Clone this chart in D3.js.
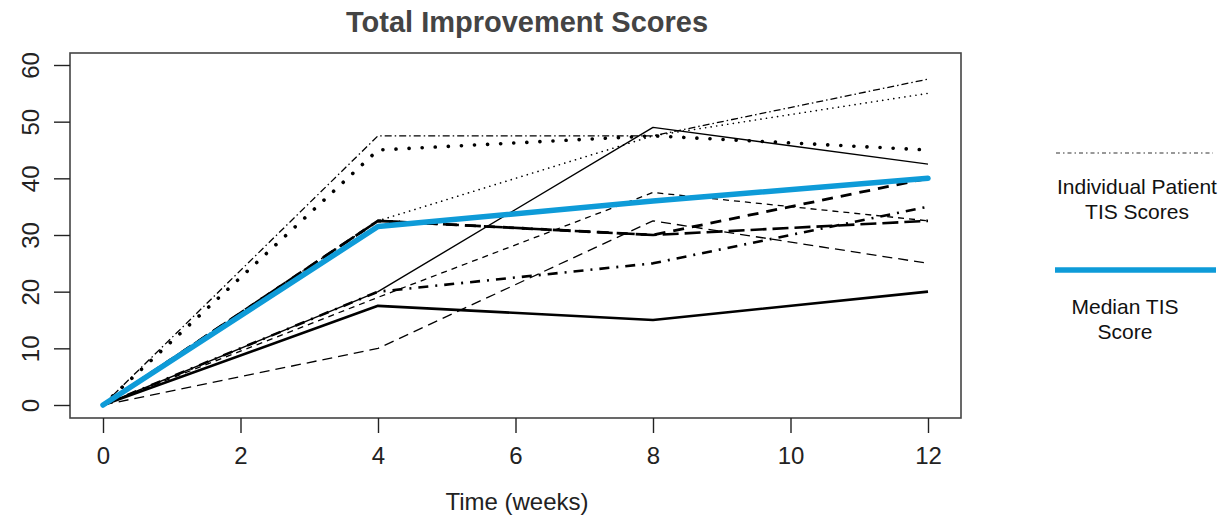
<!DOCTYPE html>
<html>
<head>
<meta charset="utf-8">
<script src="https://cdn.jsdelivr.net/npm/d3@7"></script>
<style>
  html, body { margin: 0; padding: 0; background: #fff; }
  svg { display: block; font-family: "Liberation Sans", Arial, sans-serif; }
</style>
</head>
<body>
<svg id="chart" width="1225" height="517"></svg>
<script>
// ---- data ----
const weeks = [0, 4, 8, 12];
const xTicks = [0, 2, 4, 6, 8, 10, 12];
const yTicks = [0, 10, 20, 30, 40, 50, 60];

const patient1 = [0, 47.5, 47.5, 57.5];
const patient2 = [0, 45, 47.5, 45];
const patient3 = [0, 32.5, 47.5, 55];
const patient4 = [0, 20, 49, 42.5];
const patient5 = [0, 32.5, 30, 32.5];
const patient6 = [0, 19, 37.5, 32.5];
const patient7 = [0, 10, 32.5, 25];
const patient8 = [0, 20, 25, 35];
const patient9 = [0, 32.5, 30, 40];
const patient10 = [0, 17.5, 15, 20];
const medianScores = [0, 31.5, 36, 40];

const titleText = "Total Improvement Scores";
const xLabel = "Time (weeks)";
const legendLabels = [["Individual Patient", "TIS Scores"], ["Median TIS", "Score"]];

// ---- styles (kept separate from data) ----
const patientStyles = [
  { data: patient1, w: 1.3, dash: "7 3 1.5 3", cap: "butt" },
  { data: patient2, w: 3.6, dash: "0.1 13", cap: "round" },
  { data: patient3, w: 1.6, dash: "0.1 5.5", cap: "round" },
  { data: patient4, w: 1.4, dash: null, cap: "butt" },
  { data: patient5, w: 2.6, dash: "16 6", cap: "butt" },
  { data: patient6, w: 1.3, dash: "6 5", cap: "butt" },
  { data: patient7, w: 1.3, dash: "10 6", cap: "butt" },
  { data: patient8, w: 2.6, dash: "10 7 2 7", cap: "butt" },
  { data: patient9, w: 2.8, dash: "11 8", cap: "butt" },
  { data: patient10, w: 2.6, dash: null, cap: "butt" }
];

const svg = d3.select("#chart");
const box = { left: 70, right: 961, top: 53, bottom: 418 };

const x = d3.scaleLinear().domain([0, 12]).range([103, 928]);
const y = d3.scaleLinear().domain([0, 60]).range([405, 65]);

const line = d3.line().x((d, i) => x(weeks[i])).y(d => y(d));

// title
svg.append("text")
  .attr("x", 527).attr("y", 32)
  .attr("text-anchor", "middle")
  .attr("font-size", 29).attr("font-weight", "bold")
  .attr("fill", "#444")
  .text(titleText);

// patient lines
const g = svg.append("g");
patientStyles.forEach(s => {
  g.append("path")
    .attr("d", line(s.data))
    .attr("fill", "none")
    .attr("stroke", "#000")
    .attr("stroke-width", s.w)
    .attr("stroke-linecap", s.cap)
    .attr("stroke-linejoin", "round")
    .attr("stroke-dasharray", s.dash);
});

// median line
g.append("path")
  .attr("d", line(medianScores))
  .attr("fill", "none")
  .attr("stroke", "#0e9bd8")
  .attr("stroke-width", 5.5)
  .attr("stroke-linecap", "round")
  .attr("stroke-linejoin", "round");

// plot box
svg.append("rect")
  .attr("x", box.left).attr("y", box.top)
  .attr("width", box.right - box.left).attr("height", box.bottom - box.top)
  .attr("fill", "none").attr("stroke", "#444").attr("stroke-width", 1.6);

// x axis
const xAxis = d3.axisBottom(x).tickValues(xTicks).tickSize(15).tickPadding(14).tickFormat(d3.format("d"));
const xg = svg.append("g").attr("transform", `translate(0,${box.bottom})`).call(xAxis);
xg.select(".domain").remove();
xg.selectAll(".tick line").attr("stroke", "#222").attr("stroke-width", 1.4);
xg.selectAll(".tick text").attr("font-size", 24).attr("fill", "#222")
  .attr("font-family", "Liberation Sans, Arial, sans-serif");

// y axis
const yAxis = d3.axisLeft(y).tickValues(yTicks).tickSize(16).tickPadding(0).tickFormat(d3.format("d"));
const yg = svg.append("g").attr("transform", `translate(${box.left},0)`).call(yAxis);
yg.select(".domain").remove();
yg.selectAll(".tick line").attr("stroke", "#222").attr("stroke-width", 1.4);
yg.selectAll(".tick text")
  .attr("font-size", 24).attr("fill", "#222")
  .attr("font-family", "Liberation Sans, Arial, sans-serif")
  .attr("x", null).attr("dy", null)
  .attr("text-anchor", "middle")
  .attr("transform", "translate(-38,0) rotate(-90)")
  .attr("y", 7);

// x label
svg.append("text")
  .attr("x", 517).attr("y", 510)
  .attr("text-anchor", "middle")
  .attr("font-size", 24).attr("fill", "#222")
  .text(xLabel);

// legend
svg.append("line")
  .attr("x1", 1056).attr("x2", 1213).attr("y1", 153).attr("y2", 153)
  .attr("stroke", "#333").attr("stroke-width", 1.2)
  .attr("stroke-dasharray", "4 3 1.5 3");
svg.append("line")
  .attr("x1", 1055).attr("x2", 1216).attr("y1", 270).attr("y2", 270)
  .attr("stroke", "#0e9bd8").attr("stroke-width", 5.5);

const legTexts = [
  { lines: legendLabels[0], cx: 1137, y0: 194 },
  { lines: legendLabels[1], cx: 1125, y0: 314 }
];
legTexts.forEach(t => {
  t.lines.forEach((s, i) => {
    svg.append("text")
      .attr("x", t.cx).attr("y", t.y0 + i * 25)
      .attr("text-anchor", "middle")
      .attr("font-size", 21).attr("fill", "#111")
      .text(s);
  });
});
</script>
</body>
</html>
